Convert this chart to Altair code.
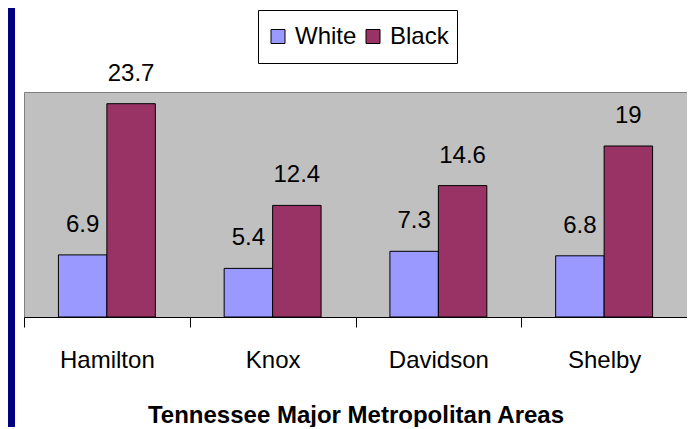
import altair as alt
import pandas as pd

areas = ["Hamilton", "Knox", "Davidson", "Shelby"]
white = [6.9, 5.4, 7.3, 6.8]
black = [23.7, 12.4, 14.6, 19]
races = ["White", "Black"]
colors = ["#9999FF", "#993366"]

rows = []
for a, w, b in zip(areas, white, black):
    rows.append({"area": a, "race": "White", "value": w})
    rows.append({"area": a, "race": "Black", "value": b})
df = pd.DataFrame(rows)

FONT = "Liberation Sans, Arial"

base = alt.Chart(df).encode(
    x=alt.X(
        "area:N",
        sort=areas,
        scale=alt.Scale(paddingInner=0, paddingOuter=0),
        axis=alt.Axis(
            title="Tennessee Major Metropolitan Areas",
            labelAngle=0,
            tickBand="extent",
            tickSize=10,
            tickColor="black",
            domainColor="black",
            labelFont=FONT,
            labelFontSize=24,
            labelColor="black",
            labelBaseline="alphabetic",
            labelPadding=40,
            titleFont=FONT,
            titleFontSize=24,
            titleFontWeight="bold",
            titleColor="black",
            titleBaseline="alphabetic",
            titleY=105,
        ),
    ),
    xOffset=alt.XOffset(
        "race:N", sort=races, scale=alt.Scale(paddingOuter=0.71, paddingInner=0)
    ),
    y=alt.Y("value:Q", scale=alt.Scale(domain=[0, 25]), axis=None),
)

bars = base.mark_bar(stroke="black", strokeWidth=1).encode(
    color=alt.Color(
        "race:N",
        sort=races,
        scale=alt.Scale(domain=races, range=colors),
        legend=alt.Legend(
            title=None,
            orient="none",
            legendX=234,
            legendY=-82,
            direction="horizontal",
            strokeColor="black",
            fillColor="white",
            padding=8,
            clipHeight=37,
            symbolType="square",
            symbolSize=196,
            symbolStrokeColor="black",
            symbolStrokeWidth=1,
            symbolOpacity=1,
            labelFont=FONT,
            labelFontSize=24,
            labelColor="black",
            labelOffset=5,
            columnPadding=4,
        ),
    )
)

labels = base.mark_text(
    baseline="alphabetic", dy=-23, font=FONT, fontSize=24, color="black"
).encode(text=alt.Text("value:Q"))

strip = alt.Chart(pd.DataFrame({"k": [0]})).mark_rect(color="#000080").encode(
    x=alt.value(-16), x2=alt.value(-9), y=alt.value(-84), y2=alt.value(340)
)

chart = (
    alt.layer(strip, bars, labels)
    .properties(
        width=663,
        height=225,
        padding={"left": 16, "top": 84, "right": 0, "bottom": 110},
        autosize=alt.AutoSizeParams(type="none"),
    )
    .configure_view(fill="#C0C0C0", stroke="#808080", strokeWidth=1)
)

chart.save("out.html", embed_options={"renderer": "svg", "actions": False})
